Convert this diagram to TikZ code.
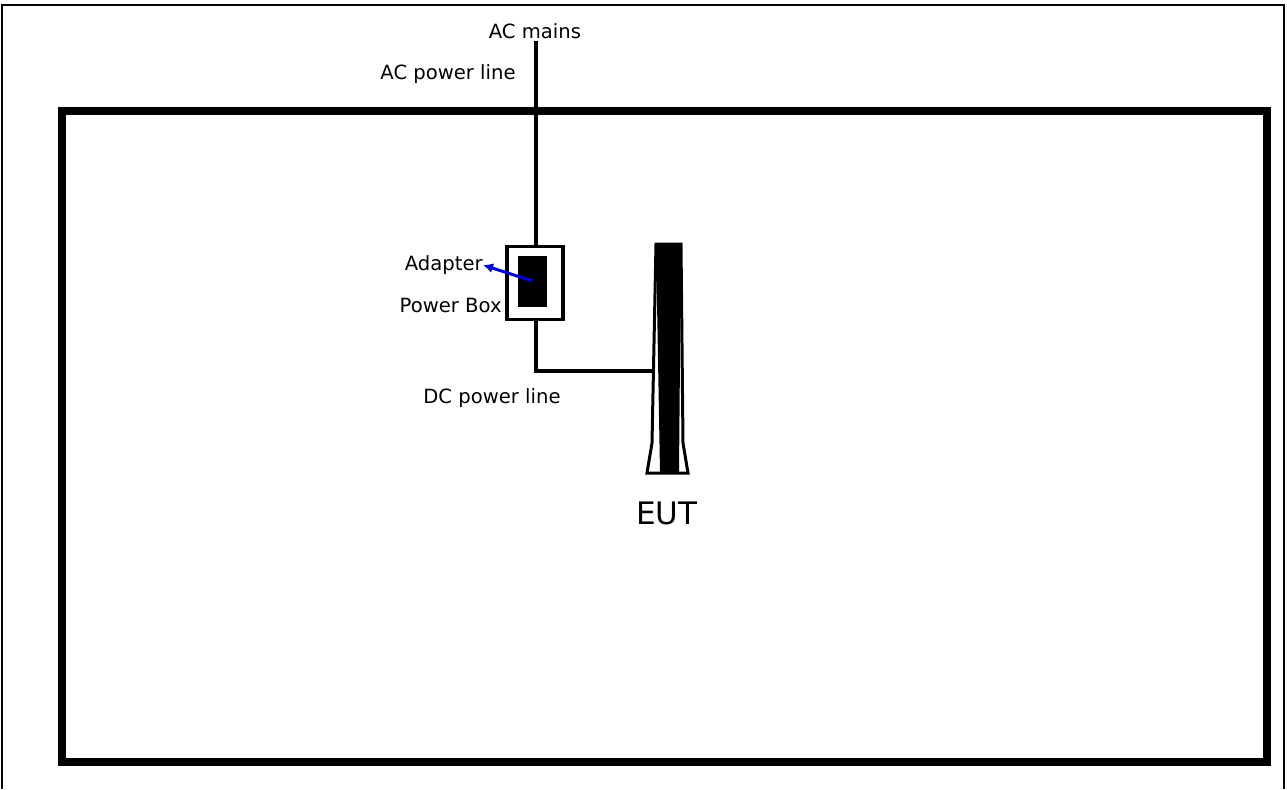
\documentclass[tikz,border=0pt]{standalone}
\usepackage{fontspec}
\setmainfont{DejaVu Sans}
\usetikzlibrary{arrows.meta,positioning}

\begin{document}
\begin{tikzpicture}[
    x=0.5pt, y=-0.5pt,
    lbl/.style={font=\fontsize{9.8pt}{11pt}\selectfont, inner sep=0pt},
    wire/.style={line width=1.6pt},
  ]
  \useasboundingbox (0,0) rectangle (1287,789);

  % Outer frame
  \draw[line width=1pt] (2,789) -- (2,5) -- (1284,5) -- (1284,789);

  % Test area
  \draw[line width=4pt] (62,111) rectangle (1267,762);

  % Labels
  \node[lbl] (acmains) at (535,31) {AC mains};
  \node[lbl, anchor=east] (aclbl) at (516,74) {AC power line};

  % Power box with adapter
  \node[draw, line width=1.6pt, minimum width=28pt, minimum height=36.5pt,
        inner sep=0pt] (powerbox) at (535,283) {};
  \node[fill=black, minimum width=14.5pt, minimum height=25.5pt,
        inner sep=0pt] (adapter) at (532.5,281) {};
  \node[lbl, anchor=east] (adlbl) at (483,265) {Adapter};
  \node[lbl, anchor=east] (pblbl) at (502,305) {Power Box};
  \draw[blue!85!black, line width=1.5pt, -{Latex[length=5pt,width=5pt]}]
    (adapter.center) -- (adlbl.east);

  % AC power line
  \coordinate (acin) at (536,41);
  \draw[wire] (acin) -- (powerbox.north -| acin);

  % EUT
  \draw[line width=1.5pt, fill=white]
    (656,244) -- (681,244) -- (683,443) -- (688,473)
    -- (647,473) -- (652,443) -- cycle;
  \fill (656,244) -- (681,244) -- (679,473) -- (660,473) -- cycle;
  \coordinate (eutin) at (653,371);
  \node[font=\fontsize{15.5pt}{18pt}\selectfont, inner sep=0pt] (eut) at (667,513) {EUT};

  % DC power line
  \draw[wire] (powerbox.south -| acin) |- (eutin);
  \node[lbl] (dclbl) at (492,398) {DC power line};

\end{tikzpicture}
\end{document}
